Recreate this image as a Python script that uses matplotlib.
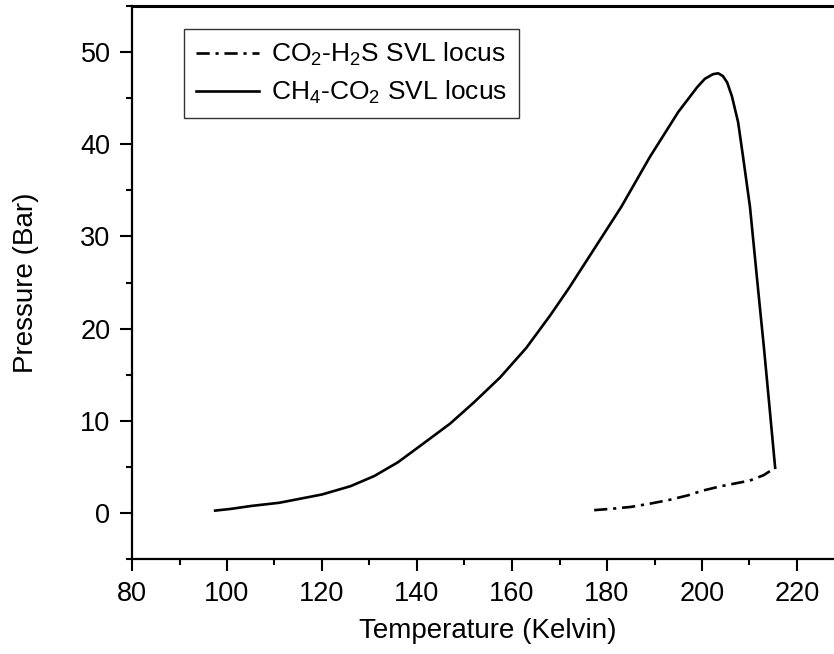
import matplotlib
matplotlib.use('Agg')
import matplotlib.pyplot as plt
from matplotlib.ticker import MultipleLocator

plt.rcParams['font.family'] = ['Liberation Sans', 'DejaVu Sans']
plt.rcParams['mathtext.fontset'] = 'custom'
plt.rcParams['mathtext.rm'] = 'Liberation Sans'
plt.rcParams['mathtext.it'] = 'Liberation Sans:italic'

# CH4-CO2 SVL locus
t_ch4_co2 = [97.5, 101, 105, 111, 116, 120, 126, 131, 136, 141, 147, 152, 157.5,
             163, 168, 172, 177, 183, 189, 195, 199, 200.6, 202.3, 203.4, 204.4,
             205.3, 206.3, 207.6, 208.6, 210.1, 211.8, 213.1, 214.3, 215.4]
p_ch4_co2 = [0.25, 0.45, 0.75, 1.1, 1.6, 2.0, 2.9, 4.0, 5.5, 7.4, 9.7, 12.0, 14.7,
             17.9, 21.4, 24.4, 28.4, 33.2, 38.6, 43.5, 46.2, 47.1, 47.6, 47.7, 47.4,
             46.7, 45.2, 42.4, 38.8, 33.2, 24.3, 17.6, 11.0, 4.9]

# CO2-H2S SVL locus
t_co2_h2s = [177.3, 181, 185, 189, 193, 197, 200, 204, 207, 210, 213, 215.4]
p_co2_h2s = [0.3, 0.45, 0.65, 1.0, 1.4, 1.9, 2.4, 2.9, 3.2, 3.5, 4.1, 4.9]

fig = plt.figure(figsize=(8.34, 6.54), dpi=100)
ax = fig.add_axes([132 / 834, (654 - 559) / 654, 712.5 / 834, 553 / 654])

ax.plot(t_co2_h2s, p_co2_h2s, color='black', lw=1.9,
        linestyle=(0, (5, 2.2, 1.2, 2.2)), label='CO$_2$-H$_2$S SVL locus')
ax.plot(t_ch4_co2, p_ch4_co2, color='black', lw=1.9, label='CH$_4$-CO$_2$ SVL locus')

ax.set_xlim(80, 230)
ax.set_ylim(-5, 55)
ax.xaxis.set_major_locator(MultipleLocator(20))
ax.xaxis.set_minor_locator(MultipleLocator(10))
ax.yaxis.set_major_locator(MultipleLocator(10))
ax.yaxis.set_minor_locator(MultipleLocator(5))
ax.tick_params(which='both', direction='out', width=1.5, labelsize=19.5, pad=7)
ax.tick_params(which='major', length=8.5)
ax.tick_params(which='minor', length=4.5)
for side in ['left', 'bottom']:
    ax.spines[side].set_linewidth(1.6)
ax.spines['top'].set_linewidth(2.2)

ax.set_xlabel('Temperature (Kelvin)', fontsize=20, labelpad=8)
ax.set_ylabel('Pressure (Bar)', fontsize=20, labelpad=30)

leg = ax.legend(loc='upper left', bbox_to_anchor=(0.073, 0.958), fontsize=19,
                frameon=True, fancybox=False, edgecolor='black', handlelength=2.4,
                borderpad=0.45, labelspacing=0.4, handletextpad=0.45,
                borderaxespad=0)
leg.get_frame().set_linewidth(1.0)

fig.savefig('out.png', dpi=100)
